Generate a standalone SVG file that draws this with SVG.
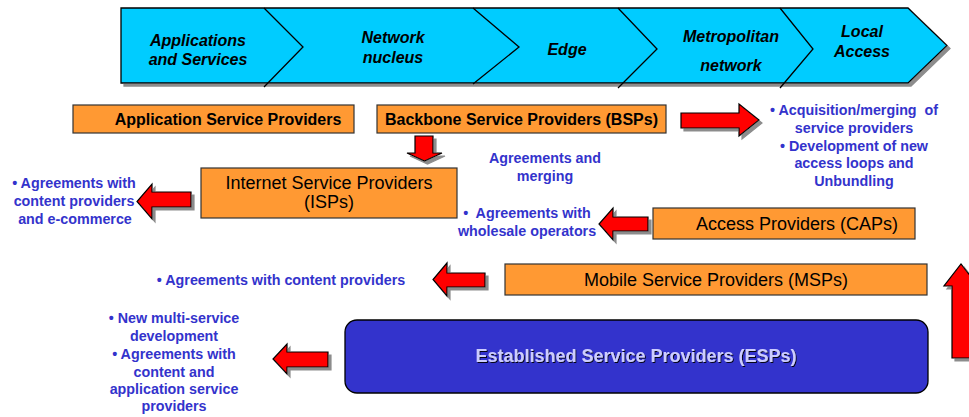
<svg xmlns="http://www.w3.org/2000/svg" width="969" height="417" viewBox="0 0 969 417">
<defs>
<filter id="sh" x="-20%" y="-20%" width="150%" height="150%">
<feDropShadow dx="3" dy="3" stdDeviation="0.6" flood-color="#8c8c8c" flood-opacity="1"/>
</filter>
<filter id="tsh" x="-5%" y="-20%" width="110%" height="150%">
<feDropShadow dx="1" dy="1" stdDeviation="0.3" flood-color="#000" flood-opacity="0.9"/>
</filter>
<style>
.ban{fill:#00ccff;stroke:#000;stroke-width:1.3}
.div{fill:none;stroke:#000;stroke-width:1.3}
.bt{font-family:"Liberation Sans",Arial,sans-serif;font-weight:bold;font-style:italic;font-size:16px;fill:#000;text-anchor:middle}
.ob{fill:#ff9933;stroke:#333;stroke-width:1.2}
.obt{font-family:"Liberation Sans",Arial,sans-serif;font-weight:bold;font-size:16px;fill:#000;text-anchor:middle}
.ort{font-family:"Liberation Sans",Arial,sans-serif;font-size:18px;fill:#000;text-anchor:middle}
.blu{font-family:"Liberation Sans",Arial,sans-serif;font-weight:bold;font-size:14.3px;fill:#3333cc;text-anchor:middle;white-space:pre}
.arr{fill:#ff0000;stroke:#000;stroke-width:1.2;stroke-linejoin:miter}
.esp{fill:#3333cc;stroke:#000;stroke-width:1.3}
.espt{font-family:"Liberation Sans",Arial,sans-serif;font-weight:bold;font-size:18px;fill:#ccccff;text-anchor:middle}
</style>
</defs>
<rect width="969" height="417" fill="#fff"/>

<g id="banner">
<polygon class="ban" filter="url(#sh)" points="121,8 908,8 947,45.5 908,83 121,83"/>
<polyline class="div" points="264,8 303,47 264,87"/>
<polyline class="div" points="473,8 519,47 473,84"/>
<polyline class="div" points="618,8 657,49 618,88"/>
<polyline class="div" points="780,8 813,49 780,88"/>
<text class="bt" x="198" y="46">Applications</text>
<text class="bt" x="198" y="65">and Services</text>
<text class="bt" x="393" y="43">Network</text>
<text class="bt" x="393" y="63">nucleus</text>
<text class="bt" x="567" y="55">Edge</text>
<text class="bt" x="731" y="42">Metropolitan</text>
<text class="bt" x="731" y="71">network</text>
<text class="bt" x="862" y="37">Local</text>
<text class="bt" x="862" y="57">Access</text>
</g>

<g id="connectors">
<polygon class="arr" filter="url(#sh)" points="415,136 433,136 433,153 442,153 424.5,161 407,153 415,153"/>
<polygon class="arr" filter="url(#sh)" points="681,113 739,113 739,104 759,120 739,136 739,128 681,128"/>
<polygon class="arr" filter="url(#sh)" points="191,192 152,192 152,184 137,201.5 152,219 152,207 191,207"/>
<polygon class="arr" filter="url(#sh)" points="648,217 613,217 613,208 599,224 613,240 613,231 648,231"/>
<polygon class="arr" filter="url(#sh)" points="485,273 447,273 447,263 433,279.5 447,296 447,287 485,287"/>
<polygon class="arr" filter="url(#sh)" points="328,352 287,352 287,344 273,359 287,374 287,367 328,367"/>
<polygon class="arr" filter="url(#sh)" points="952,358 952,286 944,286 961,264 978,286 970,286 970,358"/>
</g>

<g id="asp">
<rect class="ob" x="73" y="105" width="281" height="28"/>
<text class="obt" x="228" y="125">Application Service Providers</text>
</g>
<g id="bsp">
<rect class="ob" x="377" y="105" width="289" height="28"/>
<text class="obt" x="521.5" y="125">Backbone Service Providers (BSPs)</text>
</g>
<g id="isp">
<rect class="ob" x="201" y="168" width="256" height="50"/>
<text class="ort" x="329" y="189">Internet Service Providers</text>
<text class="ort" x="329" y="208">(ISPs)</text>
</g>
<g id="cap">
<rect class="ob" x="653" y="208" width="262" height="31"/>
<text class="ort" x="797" y="230">Access Providers (CAPs)</text>
</g>
<g id="msp">
<rect class="ob" x="505" y="264" width="422" height="31"/>
<text class="ort" x="716" y="286">Mobile Service Providers (MSPs)</text>
</g>
<g id="esp">
<rect class="esp" x="345" y="320" width="583" height="73" rx="12" ry="12"/>
<text class="espt" filter="url(#tsh)" x="636" y="362">Established Service Providers (ESPs)</text>
</g>

<g id="note-isp">
<text class="blu" x="74" y="188">• Agreements with</text>
<text class="blu" x="74" y="206">content providers</text>
<text class="blu" x="75" y="224">and e-commerce</text>
</g>
<g id="note-merge">
<text class="blu" x="545" y="163">Agreements and</text>
<text class="blu" x="545" y="181">merging</text>
</g>
<g id="note-bsp">
<text class="blu" x="854" y="115">• Acquisition/merging  of</text>
<text class="blu" x="854" y="133">service providers</text>
<text class="blu" x="854" y="151">• Development of new</text>
<text class="blu" x="854" y="168">access loops and</text>
<text class="blu" x="854" y="186">Unbundling</text>
</g>
<g id="note-cap">
<text class="blu" x="527" y="218">•  Agreements with</text>
<text class="blu" x="527" y="236">wholesale operators</text>
</g>
<g id="note-msp">
<text class="blu" x="281" y="285">• Agreements with content providers</text>
</g>
<g id="note-esp">
<text class="blu" x="174" y="323">• New multi-service</text>
<text class="blu" x="174" y="341">development</text>
<text class="blu" x="174" y="359">• Agreements with</text>
<text class="blu" x="174" y="377">content and</text>
<text class="blu" x="174" y="394">application service</text>
<text class="blu" x="174" y="411">providers</text>
</g>
</svg>
